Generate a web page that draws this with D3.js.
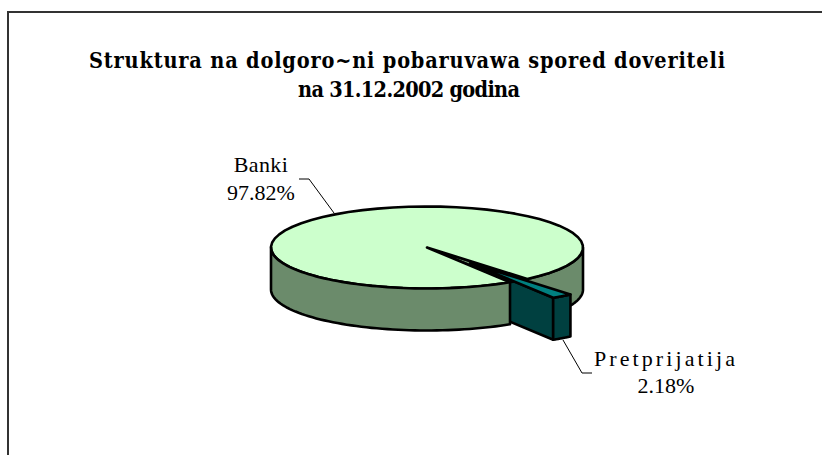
<!DOCTYPE html>
<html>
<head>
<meta charset="utf-8">
<script src="https://cdn.jsdelivr.net/npm/d3@7"></script>
<style>
body { margin: 0; background: #fff; }
text { fill: #000; }
.title { font-family: "DejaVu Serif", serif; font-size: 21.5px; font-weight: bold; font-stretch: condensed; }
.label { font-family: "Liberation Serif", serif; font-size: 22px; }
</style>
</head>
<body>
<div id="chart"></div>
<script>
const WIDTH = 822;
const HEIGHT = 455;
const PIE = { CX: 427, CY: 247.5, RX: 156, RY: 41, DEPTH: 42, EXPLODE: 0.47 };
const COLORS = { bankiTop: "#CCFFCC", bankiSide: "#6B8B6B", pretTop: "#008080", pretSide: "#004040" };

const categories = ["Banki", "Pretprijatija"];
const shares = [97.82, 2.18];
const titleLines = ["Struktura na dolgoro~ni pobaruvawa spored doveriteli", "na 31.12.2002 godina"];

let svg = d3.select("#chart")
    .append("svg")
    .attr("width", WIDTH)
    .attr("height", HEIGHT)
    .style("display", "block");

// chart frame, only left and top are inside the picture
svg.append("path")
    .attr("d", "M8,455V12H822")
    .attr("fill", "none")
    .attr("stroke", "#333")
    .attr("stroke-width", 2);

// title
svg.append("text").attr("class", "title").attr("x", 89).attr("y", 68)
    .attr("textLength", 636).attr("lengthAdjust", "spacing").text(titleLines[0]);
svg.append("text").attr("class", "title").attr("x", 298).attr("y", 97)
    .attr("textLength", 222).attr("lengthAdjust", "spacing").text(titleLines[1]);

// pie angles, Banki starts where the small slice ends
const START = 147.85 * Math.PI / 180;
let slices = d3.pie().sort(null).startAngle(START).endAngle(START + 2 * Math.PI)(shares);
let banki = slices[0];
let pret = slices[1];
let pretStart = pret.startAngle - 2 * Math.PI;
let pretEnd = pret.endAngle - 2 * Math.PI;

function pt(angle, r = 1, o = [0, 0], dy = 0) {
    return [PIE.CX + o[0] + r * PIE.RX * Math.sin(angle), PIE.CY + o[1] + r * PIE.RY * -Math.cos(angle) + dy];
}
function rim(a0, a1, o, dy) {
    return d3.range(0, 61).map(i => pt(a0 + (a1 - a0) * i / 60, 1, o, dy));
}
let line = d3.line();
function wall(a0, a1, o = [0, 0]) {
    return line(rim(a0, a1, o, 0).concat(rim(a0, a1, o, PIE.DEPTH).reverse())) + "Z";
}
function face(a0, a1, o = [0, 0]) {
    return line([pt(0, 0, o)].concat(rim(a0, a1, o, 0))) + "Z";
}
function draw(d, fill) {
    svg.append("path").attr("d", d).attr("fill", fill)
        .attr("stroke", "#000").attr("stroke-width", 2.6).attr("stroke-linejoin", "round");
}

let mid = (pretStart + pretEnd) / 2;
let off = [PIE.EXPLODE * PIE.RX * Math.sin(mid), -PIE.EXPLODE * PIE.RY * Math.cos(mid)];
let cut = [pt(0, 0, off), pt(pretEnd, 1, off)];

// back to front: right part of the big wall, small slice walls, big top, left wall, small top
draw(wall(Math.PI / 2, pretStart), COLORS.bankiSide);
draw(line([cut[0], cut[1], [cut[1][0], cut[1][1] + PIE.DEPTH], [cut[0][0], cut[0][1] + PIE.DEPTH]]) + "Z", COLORS.pretSide);
draw(wall(pretStart, pretEnd, off), COLORS.pretSide);
draw(face(pretStart, pretEnd), COLORS.bankiSide);
draw(face(banki.startAngle, banki.endAngle), COLORS.bankiTop);
draw(wall(banki.startAngle, 1.5 * Math.PI), COLORS.bankiSide);
draw(face(pretStart, pretEnd, off), COLORS.pretTop);

// labels
function label(name, value, x, y, gap, spacing) {
    let t = svg.append("text").attr("class", "label").attr("text-anchor", "middle");
    t.append("tspan").attr("x", x).attr("y", y).style("letter-spacing", spacing).text(name);
    t.append("tspan").attr("x", x).attr("y", y + gap).text(value.toFixed(2) + "%");
}
label(categories[0], shares[0], 261, 172, 28, "0.4px");
label(categories[1], shares[1], 666, 366, 27, "3.1px");

svg.append("path").attr("d", "M299,179H309L334,213").attr("fill", "none").attr("stroke", "#000");
svg.append("path").attr("d", "M563,340L582,373H592").attr("fill", "none").attr("stroke", "#000");
</script>
</body>
</html>
